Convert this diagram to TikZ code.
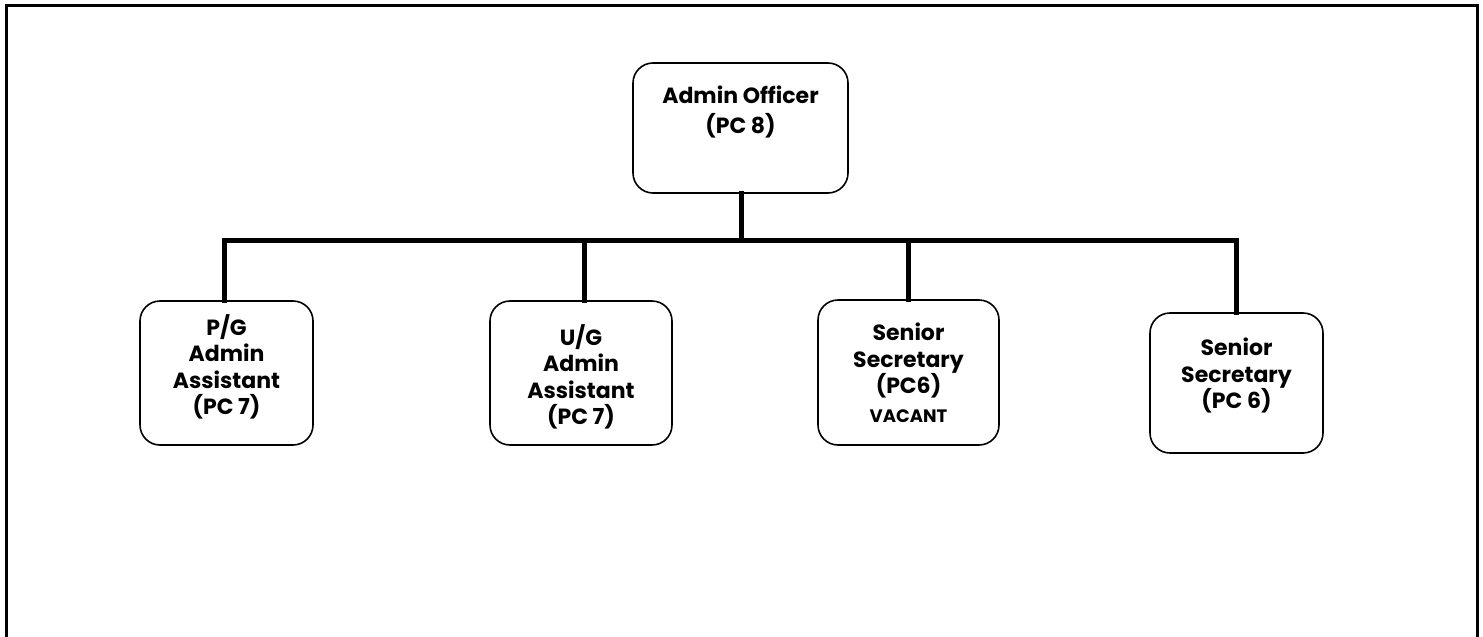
\documentclass[tikz,border=0pt]{standalone}
\usepackage{fontspec}
\setmainfont{Poppins}
\tikzset{
  box/.style={draw, line width=1.6pt, rounded corners=20pt, inner sep=0pt},
  conn/.style={line width=5pt, line cap=rect},
  lbl/.style={font=\bfseries\fontsize{22}{26.5}\selectfont, align=center, inner sep=0pt, anchor=north}
}
\begin{document}
\begin{tikzpicture}[x=1pt,y=-1pt]
\useasboundingbox (0,0) rectangle (1483,637);
\draw[line width=3pt] (6,637) -- (6,5) -- (1477,5) -- (1477,637);
% boxes
\node[box, minimum width=215pt, minimum height=130pt] (ao) at (740.5,128) {};
\node[box, minimum width=173pt, minimum height=144pt] (pg) at (226.5,373) {};
\node[box, minimum width=182pt, minimum height=144pt] (ug) at (581,373) {};
\node[box, minimum width=181pt, minimum height=145pt] (sv) at (908.5,372.5) {};
\node[box, minimum width=173pt, minimum height=140pt] (sr) at (1236.5,383) {};
% texts
\node[lbl, font=\bfseries\fontsize{22}{30}\selectfont] (aot) at (740.5,86) {Admin Officer\\(PC 8)};
\node[lbl] (pgt) at (226.5,314) {P/G\\Admin\\Assistant\\(PC 7)};
\node[lbl] (ugt) at (581,324) {U/G\\Admin\\Assistant\\(PC 7)};
\node[lbl] (svt) at (908.5,323) {Senior\\Secretary\\(PC6)\\[2pt]{\fontsize{18}{22}\selectfont VACANT}};
\node[lbl] (srt) at (1236.5,338) {Senior\\Secretary\\(PC 6)};
% connectors
\coordinate (d1) at (224,240);
\coordinate (d2) at (584,240);
\coordinate (d3) at (908,240);
\coordinate (d4) at (1236,240);
\draw[conn] (d1) -- (d4);
\draw[conn] (ao.south -| 741,0) -- (741,240);
\draw[conn] (d1) -- (d1 |- pg.north);
\draw[conn] (d2) -- (d2 |- ug.north);
\draw[conn] (d3) -- (d3 |- sv.north);
\draw[conn] (d4) -- (d4 |- sr.north);
\end{tikzpicture}
\end{document}
